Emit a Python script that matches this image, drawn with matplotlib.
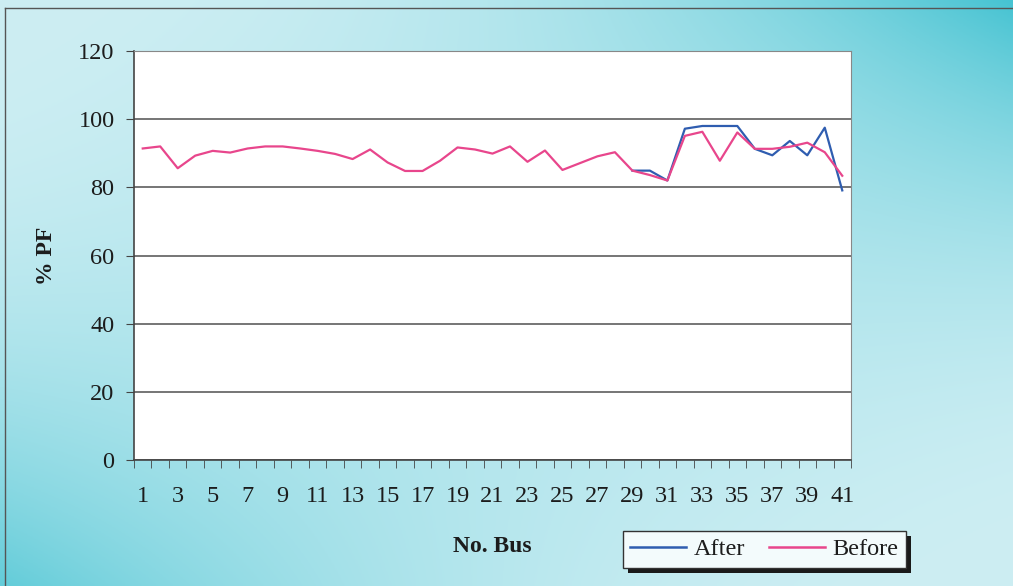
import numpy as np
import matplotlib
matplotlib.use("Agg")
import matplotlib.pyplot as plt
from matplotlib.patches import Rectangle
from matplotlib.lines import Line2D

# power factor per bus, before and after compensation
bus = list(range(1, 42))
pf_before = [91.4, 92.0, 85.6, 89.3, 90.7, 90.2, 91.4, 92.0, 92.0, 91.4,
             90.7, 89.8, 88.3, 91.1, 87.3, 84.8, 84.8, 87.8, 91.7, 91.1,
             89.9, 92.0, 87.5, 90.8, 85.1, 87.1, 89.1, 90.3, 84.9, 83.6,
             82.0, 95.1, 96.3, 87.8, 96.1, 91.3, 91.3, 91.9, 93.1, 90.3,
             83.4]
bus_after = list(range(29, 42))
pf_after = [84.9, 84.9, 82.0, 97.2, 98.0, 98.0, 98.0, 91.3, 89.4, 93.6,
            89.4, 97.5, 79.1]
y_ticks = [0, 20, 40, 60, 80, 100, 120]
x_labels = list(range(1, 42, 2))

BLUE = '#2f5db0'
PINK = '#e8468c'
TXT = '#1c1c1c'

plt.rcParams['font.family'] = ['Liberation Serif', 'DejaVu Serif']

W, H = 1013, 586
fig = plt.figure(figsize=(W / 100, H / 100), dpi=100)

# cyan backdrop: light top-left / bottom-right, teal in the other corners
bg = fig.add_axes([0, 0, 1, 1], zorder=-5)
gx, gy = np.meshgrid(np.linspace(0, 1, 300), np.linspace(0, 1, 200))
t = gx * (1 - gy) * 1.0 + (1 - gx) * gy * 0.9
t = np.clip(t, 0, 1) ** 2.3
light = np.array([205, 238, 243]) / 255
dark = np.array([70, 195, 210]) / 255
img = light[None, None, :] * (1 - t[..., None]) + dark[None, None, :] * t[..., None]
bg.imshow(img, aspect='auto', extent=[0, 1, 0, 1], origin='upper')
bg.set_xlim(0, 1)
bg.set_ylim(0, 1)
bg.axis('off')
# thin frame along top and left edge
bg.plot([5 / W, 1], [1 - 8 / H, 1 - 8 / H], color='#555555', lw=1)
bg.plot([5 / W, 5 / W], [1 - 8 / H, 0], color='#555555', lw=1)

ax = fig.add_axes([134 / W, 1 - 460 / H, (851 - 134) / W, (460 - 51) / H])
ax.set_facecolor('white')

ax.plot(bus_after, pf_after, color=BLUE, lw=1.6, zorder=3)
ax.plot(bus, pf_before, color=PINK, lw=1.6, zorder=4)

ax.set_xlim(0.5, 41.5)
ax.set_ylim(0, 120)
ax.set_yticks(y_ticks)
ax.yaxis.grid(True, color='#5e5e5e', lw=1.2)
ax.set_axisbelow(True)

ax.set_xticks(x_labels)
ax.set_xticklabels([str(v) for v in x_labels])
ax.set_xticks(np.arange(0.5, 42, 1), minor=True)
ax.tick_params(axis='x', which='major', length=0, pad=19, labelsize=17.5, labelcolor=TXT)
ax.tick_params(axis='x', which='minor', length=6, direction='out', color='#444444')
ax.tick_params(axis='y', length=6, direction='out', pad=8, labelsize=17.5,
               labelcolor=TXT, color='#444444')

for side in ['top', 'right']:
    ax.spines[side].set_color('#888888')
for side in ['left', 'bottom']:
    ax.spines[side].set_color('#444444')
    ax.spines[side].set_linewidth(1.2)

ax.set_ylabel('% PF', fontsize=17, fontweight='bold', color=TXT)
ax.yaxis.set_label_coords(-0.107, 0.5)
ax.set_xlabel('No. Bus', fontsize=17, fontweight='bold', color=TXT)
ax.xaxis.set_label_coords(0.4995, -0.186)

handles = [Line2D([], [], color=BLUE, lw=1.8), Line2D([], [], color=PINK, lw=1.8)]
leg = fig.legend(handles, ['After', 'Before'], loc='upper left',
                 bbox_to_anchor=(623 / W, 1 - 531 / H), borderaxespad=0,
                 ncol=2, fontsize=17.5, frameon=True, fancybox=False,
                 framealpha=1, handlelength=2.3, handletextpad=0.3,
                 columnspacing=1.0, borderpad=0.3)
leg.get_frame().set_facecolor('#f3fbfc')
leg.get_frame().set_edgecolor('#333333')
leg.get_frame().set_linewidth(1.0)
leg.set_zorder(10)
for txt in leg.get_texts():
    txt.set_color(TXT)

# drop shadow under the legend box
fig.canvas.draw()
bb = leg.get_frame().get_window_extent().transformed(fig.transFigure.inverted())
fig.add_artist(Rectangle((bb.x0 + 5 / W, bb.y0 - 5 / H), bb.width, bb.height,
                         transform=fig.transFigure, facecolor='#1a1a1a',
                         edgecolor='none', zorder=9))

fig.savefig('out.png', dpi=100)
